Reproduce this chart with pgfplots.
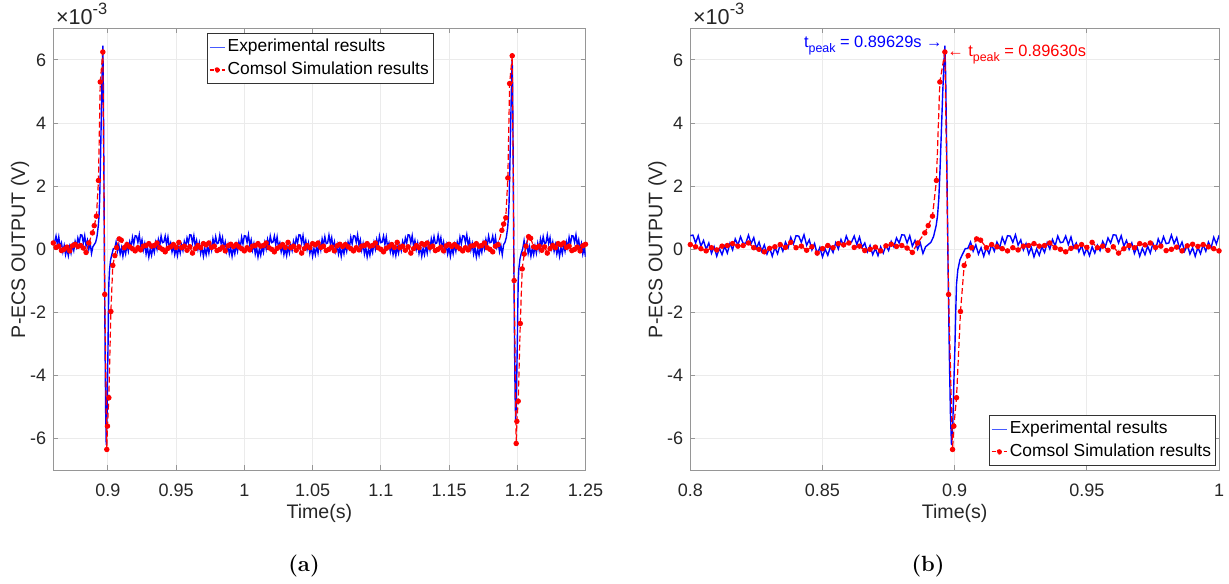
\documentclass[border=0pt]{standalone}
\usepackage{pgfplots}
\pgfplotsset{compat=1.18}
\usepackage{pgfplotstable}
\usepackage{fontspec}
\newfontfamily\hv{Liberation Sans}

\pgfplotstableread[row sep=\\]{
t v\\
0.800 0.43\\
0.801 0.45\\ 0.802 0.20\\ 0.803 0.43\\ 0.804 0.10\\ 0.805 0.28\\ 0.806 0.00\\ 0.807 0.20\\ 0.808 -0.13\\ 0.809 0.08\\ 0.810 -0.22\\
0.811 0.03\\ 0.812 -0.17\\ 0.813 0.10\\ 0.814 -0.12\\ 0.815 0.19\\ 0.816 -0.02\\ 0.817 0.33\\ 0.818 0.13\\ 0.819 0.40\\ 0.820 0.18\\
0.821 0.20\\ 0.822 0.45\\ 0.823 0.18\\ 0.824 0.37\\ 0.825 0.03\\ 0.826 0.23\\ 0.827 -0.06\\ 0.828 0.14\\ 0.829 -0.15\\ 0.830 0.05\\
0.831 -0.22\\ 0.832 0.06\\ 0.833 -0.14\\ 0.834 0.15\\ 0.835 -0.06\\ 0.836 0.23\\ 0.837 0.05\\ 0.838 0.38\\ 0.839 0.17\\ 0.840 0.43\\
0.841 0.42\\ 0.842 0.22\\ 0.843 0.46\\ 0.844 0.13\\ 0.845 0.30\\ 0.846 -0.02\\ 0.847 0.18\\ 0.848 -0.15\\ 0.849 0.06\\ 0.850 -0.24\\
0.851 0.01\\ 0.852 -0.19\\ 0.853 0.08\\ 0.854 -0.10\\ 0.855 0.21\\ 0.856 0.01\\ 0.857 0.31\\ 0.858 0.11\\ 0.859 0.42\\ 0.860 0.21\\
0.861 0.23\\ 0.862 0.42\\ 0.863 0.15\\ 0.864 0.39\\ 0.865 0.06\\ 0.866 0.20\\ 0.867 -0.08\\ 0.868 0.12\\ 0.869 -0.17\\ 0.870 0.03\\
0.871 -0.20\\ 0.872 0.08\\ 0.873 -0.12\\ 0.874 0.13\\ 0.875 -0.04\\ 0.876 0.25\\ 0.877 0.08\\ 0.878 0.36\\ 0.879 0.20\\ 0.880 0.46\\
0.881 0.45\\ 0.882 0.20\\ 0.883 0.43\\ 0.884 0.10\\ 0.885 0.28\\ 0.886 0.00\\ 0.887 0.20\\ 0.888 -0.13\\ 0.889 0.08\\
0.8900 0.15\\ 0.8910 0.22\\ 0.8920 0.40\\ 0.8930 0.75\\ 0.8935 1.05\\ 0.8940 1.60\\ 0.8945 2.60\\ 0.8950 3.80\\ 0.8955 5.00\\ 0.8960 6.00\\
0.8963 6.45\\ 0.8966 5.50\\ 0.8970 3.00\\ 0.8975 -0.50\\ 0.8980 -3.40\\ 0.8984 -5.20\\ 0.8988 -6.20\\ 0.8993 -5.50\\ 0.8997 -4.20\\ 0.9001 -3.10\\
0.9004 -2.00\\ 0.9007 -1.10\\ 0.9012 -0.65\\ 0.9020 -0.33\\ 0.9030 -0.15\\ 0.9040 0.02\\
0.905 0.03\\ 0.906 0.23\\ 0.907 -0.06\\ 0.908 0.14\\ 0.909 -0.15\\ 0.910 0.05\\ 0.911 -0.22\\ 0.912 0.06\\ 0.913 -0.14\\ 0.914 0.15\\
0.915 -0.06\\ 0.916 0.23\\ 0.917 0.05\\ 0.918 0.38\\ 0.919 0.17\\ 0.920 0.43\\
0.921 0.42\\ 0.922 0.22\\ 0.923 0.46\\ 0.924 0.13\\ 0.925 0.30\\ 0.926 -0.02\\ 0.927 0.18\\ 0.928 -0.15\\ 0.929 0.06\\ 0.930 -0.24\\
0.931 0.01\\ 0.932 -0.19\\ 0.933 0.08\\ 0.934 -0.10\\ 0.935 0.21\\ 0.936 0.01\\ 0.937 0.31\\ 0.938 0.11\\ 0.939 0.42\\ 0.940 0.21\\
0.941 0.23\\ 0.942 0.42\\ 0.943 0.15\\ 0.944 0.39\\ 0.945 0.06\\ 0.946 0.20\\ 0.947 -0.08\\ 0.948 0.12\\ 0.949 -0.17\\ 0.950 0.03\\
0.951 -0.20\\ 0.952 0.08\\ 0.953 -0.12\\ 0.954 0.13\\ 0.955 -0.04\\ 0.956 0.25\\ 0.957 0.08\\ 0.958 0.36\\ 0.959 0.20\\ 0.960 0.46\\
0.961 0.45\\ 0.962 0.20\\ 0.963 0.43\\ 0.964 0.10\\ 0.965 0.28\\ 0.966 0.00\\ 0.967 0.20\\ 0.968 -0.13\\ 0.969 0.08\\ 0.970 -0.22\\
0.971 0.03\\ 0.972 -0.17\\ 0.973 0.10\\ 0.974 -0.12\\ 0.975 0.19\\ 0.976 -0.02\\ 0.977 0.33\\ 0.978 0.13\\ 0.979 0.40\\ 0.980 0.18\\
0.981 0.20\\ 0.982 0.45\\ 0.983 0.18\\ 0.984 0.37\\ 0.985 0.03\\ 0.986 0.23\\ 0.987 -0.06\\ 0.988 0.14\\ 0.989 -0.15\\ 0.990 0.05\\
0.991 -0.22\\ 0.992 0.06\\ 0.993 -0.14\\ 0.994 0.15\\ 0.995 -0.06\\ 0.996 0.23\\ 0.997 0.05\\ 0.998 0.38\\ 0.999 0.17\\ 1.000 0.43\\
1.001 0.42\\ 1.002 0.22\\ 1.003 0.46\\ 1.004 0.13\\ 1.005 0.30\\ 1.006 -0.02\\ 1.007 0.18\\ 1.008 -0.15\\ 1.009 0.06\\ 1.010 -0.24\\
1.011 0.01\\ 1.012 -0.19\\ 1.013 0.08\\ 1.014 -0.10\\ 1.015 0.21\\ 1.016 0.01\\ 1.017 0.31\\ 1.018 0.11\\ 1.019 0.42\\ 1.020 0.21\\
1.021 0.23\\ 1.022 0.42\\ 1.023 0.15\\ 1.024 0.39\\ 1.025 0.06\\ 1.026 0.20\\ 1.027 -0.08\\ 1.028 0.12\\ 1.029 -0.17\\ 1.030 0.03\\
1.031 -0.20\\ 1.032 0.08\\ 1.033 -0.12\\ 1.034 0.13\\ 1.035 -0.04\\ 1.036 0.25\\ 1.037 0.08\\ 1.038 0.36\\ 1.039 0.20\\ 1.040 0.46\\
1.041 0.45\\ 1.042 0.20\\ 1.043 0.43\\ 1.044 0.10\\ 1.045 0.28\\ 1.046 0.00\\ 1.047 0.20\\ 1.048 -0.13\\ 1.049 0.08\\ 1.050 -0.22\\
1.051 0.03\\ 1.052 -0.17\\ 1.053 0.10\\ 1.054 -0.12\\ 1.055 0.19\\ 1.056 -0.02\\ 1.057 0.33\\ 1.058 0.13\\ 1.059 0.40\\ 1.060 0.18\\
1.061 0.20\\ 1.062 0.45\\ 1.063 0.18\\ 1.064 0.37\\ 1.065 0.03\\ 1.066 0.23\\ 1.067 -0.06\\ 1.068 0.14\\ 1.069 -0.15\\ 1.070 0.05\\
1.071 -0.22\\ 1.072 0.06\\ 1.073 -0.14\\ 1.074 0.15\\ 1.075 -0.06\\ 1.076 0.23\\ 1.077 0.05\\ 1.078 0.38\\ 1.079 0.17\\ 1.080 0.43\\
1.081 0.42\\ 1.082 0.22\\ 1.083 0.46\\ 1.084 0.13\\ 1.085 0.30\\ 1.086 -0.02\\ 1.087 0.18\\ 1.088 -0.15\\ 1.089 0.06\\ 1.090 -0.24\\
1.091 0.01\\ 1.092 -0.19\\ 1.093 0.08\\ 1.094 -0.10\\ 1.095 0.21\\ 1.096 0.01\\ 1.097 0.31\\ 1.098 0.11\\ 1.099 0.42\\ 1.100 0.21\\
1.101 0.23\\ 1.102 0.42\\ 1.103 0.15\\ 1.104 0.39\\ 1.105 0.06\\ 1.106 0.20\\ 1.107 -0.08\\ 1.108 0.12\\ 1.109 -0.17\\ 1.110 0.03\\
1.111 -0.20\\ 1.112 0.08\\ 1.113 -0.12\\ 1.114 0.13\\ 1.115 -0.04\\ 1.116 0.25\\ 1.117 0.08\\ 1.118 0.36\\ 1.119 0.20\\ 1.120 0.46\\
1.121 0.45\\ 1.122 0.20\\ 1.123 0.43\\ 1.124 0.10\\ 1.125 0.28\\ 1.126 0.00\\ 1.127 0.20\\ 1.128 -0.13\\ 1.129 0.08\\ 1.130 -0.22\\
1.131 0.03\\ 1.132 -0.17\\ 1.133 0.10\\ 1.134 -0.12\\ 1.135 0.19\\ 1.136 -0.02\\ 1.137 0.33\\ 1.138 0.13\\ 1.139 0.40\\ 1.140 0.18\\
1.141 0.20\\ 1.142 0.45\\ 1.143 0.18\\ 1.144 0.37\\ 1.145 0.03\\ 1.146 0.23\\ 1.147 -0.06\\ 1.148 0.14\\ 1.149 -0.15\\ 1.150 0.05\\
1.151 -0.22\\ 1.152 0.06\\ 1.153 -0.14\\ 1.154 0.15\\ 1.155 -0.06\\ 1.156 0.23\\ 1.157 0.05\\ 1.158 0.38\\ 1.159 0.17\\ 1.160 0.43\\
1.161 0.42\\ 1.162 0.22\\ 1.163 0.46\\ 1.164 0.13\\ 1.165 0.30\\ 1.166 -0.02\\ 1.167 0.18\\ 1.168 -0.15\\ 1.169 0.06\\ 1.170 -0.24\\
1.171 0.01\\ 1.172 -0.19\\ 1.173 0.08\\ 1.174 -0.10\\ 1.175 0.21\\ 1.176 0.01\\ 1.177 0.31\\ 1.178 0.11\\ 1.179 0.42\\ 1.180 0.21\\
1.181 0.23\\ 1.182 0.42\\ 1.183 0.15\\ 1.184 0.39\\ 1.185 0.06\\ 1.186 0.20\\ 1.187 -0.08\\ 1.188 0.12\\ 1.189 -0.17\\
1.1900 0.15\\ 1.1910 0.22\\ 1.1920 0.38\\ 1.1930 0.70\\ 1.1935 1.00\\ 1.1940 1.50\\ 1.1945 2.45\\ 1.1950 3.55\\ 1.1955 4.65\\ 1.1960 5.60\\
1.1963 6.00\\ 1.1966 5.10\\ 1.1970 2.80\\ 1.1975 -0.45\\ 1.1980 -3.00\\ 1.1984 -4.60\\ 1.1988 -5.40\\ 1.1993 -4.90\\ 1.1997 -3.80\\ 1.2001 -2.80\\
1.2004 -1.80\\ 1.2007 -1.00\\ 1.2012 -0.60\\ 1.2020 -0.30\\ 1.2030 -0.12\\ 1.2040 0.02\\
1.205 0.28\\ 1.206 0.00\\ 1.207 0.20\\ 1.208 -0.13\\ 1.209 0.08\\ 1.210 -0.22\\ 1.211 0.03\\ 1.212 -0.17\\ 1.213 0.10\\ 1.214 -0.12\\
1.215 0.19\\ 1.216 -0.02\\ 1.217 0.33\\ 1.218 0.13\\ 1.219 0.40\\ 1.220 0.18\\
1.221 0.20\\ 1.222 0.45\\ 1.223 0.18\\ 1.224 0.37\\ 1.225 0.03\\ 1.226 0.23\\ 1.227 -0.06\\ 1.228 0.14\\ 1.229 -0.15\\ 1.230 0.05\\
1.231 -0.22\\ 1.232 0.06\\ 1.233 -0.14\\ 1.234 0.15\\ 1.235 -0.06\\ 1.236 0.23\\ 1.237 0.05\\ 1.238 0.38\\ 1.239 0.17\\ 1.240 0.43\\
1.241 0.42\\ 1.242 0.22\\ 1.243 0.46\\ 1.244 0.13\\ 1.245 0.30\\ 1.246 -0.02\\ 1.247 0.18\\ 1.248 -0.15\\ 1.249 0.06\\ 1.250 -0.24\\
}\expdata

\pgfplotstableread[row sep=\\]{
t v\\
0.800 0.15\\ 0.802 0.08\\ 0.804 0.02\\ 0.806 -0.05\\ 0.808 0.05\\ 0.810 -0.02\\ 0.812 0.10\\ 0.814 0.12\\ 0.816 0.18\\ 0.818 0.10\\
0.820 0.12\\ 0.822 0.20\\ 0.824 0.05\\ 0.826 0.00\\ 0.828 -0.08\\ 0.830 0.03\\ 0.832 0.08\\ 0.834 0.15\\ 0.836 0.06\\ 0.838 0.22\\
0.840 0.05\\ 0.842 0.10\\ 0.844 -0.03\\ 0.846 0.08\\ 0.848 -0.12\\ 0.850 0.02\\ 0.852 0.12\\ 0.854 0.05\\ 0.856 0.18\\ 0.858 0.14\\
0.860 0.20\\ 0.862 0.06\\ 0.864 0.10\\ 0.866 -0.04\\ 0.868 0.00\\ 0.870 0.07\\ 0.872 -0.05\\ 0.874 0.11\\ 0.876 0.16\\ 0.878 0.09\\
0.880 0.12\\ 0.882 0.04\\ 0.884 -0.10\\ 0.886 0.20\\
0.8887 0.52\\ 0.8900 0.75\\ 0.8916 1.05\\ 0.8931 2.18\\ 0.8944 5.30\\ 0.8963 6.25\\ 0.8977 -1.43\\ 0.8992 -6.34\\ 0.8997 -5.60\\ 0.9007 -4.70\\
0.9022 -1.97\\ 0.9036 -0.51\\ 0.9051 -0.20\\ 0.9064 0.05\\ 0.9083 0.33\\ 0.9098 0.29\\ 0.912 0.05\\
0.914 0.15\\ 0.916 0.08\\ 0.918 0.02\\ 0.920 -0.05\\ 0.922 0.05\\ 0.924 -0.02\\ 0.926 0.10\\ 0.928 0.12\\ 0.930 0.18\\ 0.932 0.10\\
0.934 0.12\\ 0.936 0.20\\ 0.938 0.05\\ 0.940 0.00\\ 0.942 -0.08\\ 0.944 0.03\\ 0.946 0.08\\ 0.948 0.15\\ 0.950 0.06\\ 0.952 0.22\\
0.954 0.05\\ 0.956 0.10\\ 0.958 -0.03\\ 0.960 0.08\\ 0.962 -0.12\\ 0.964 0.02\\ 0.966 0.12\\ 0.968 0.05\\ 0.970 0.18\\ 0.972 0.14\\
0.974 0.20\\ 0.976 0.06\\ 0.978 0.10\\ 0.980 -0.04\\ 0.982 0.00\\ 0.984 0.07\\ 0.986 -0.05\\ 0.988 0.11\\ 0.990 0.16\\ 0.992 0.09\\
0.994 0.15\\ 0.996 0.08\\ 0.998 0.02\\ 1.000 -0.05\\ 1.002 0.05\\ 1.004 -0.02\\ 1.006 0.10\\ 1.008 0.12\\ 1.010 0.18\\ 1.012 0.10\\
1.014 0.12\\ 1.016 0.20\\ 1.018 0.05\\ 1.020 0.00\\ 1.022 -0.08\\ 1.024 0.03\\ 1.026 0.08\\ 1.028 0.15\\ 1.030 0.06\\ 1.032 0.22\\
1.034 0.05\\ 1.036 0.10\\ 1.038 -0.03\\ 1.040 0.08\\ 1.042 -0.12\\ 1.044 0.02\\ 1.046 0.12\\ 1.048 0.05\\ 1.050 0.18\\ 1.052 0.14\\
1.054 0.20\\ 1.056 0.06\\ 1.058 0.10\\ 1.060 -0.04\\ 1.062 0.00\\ 1.064 0.07\\ 1.066 -0.05\\ 1.068 0.11\\ 1.070 0.16\\ 1.072 0.09\\
1.074 0.15\\ 1.076 0.08\\ 1.078 0.02\\ 1.080 -0.05\\ 1.082 0.05\\ 1.084 -0.02\\ 1.086 0.10\\ 1.088 0.12\\ 1.090 0.18\\ 1.092 0.10\\
1.094 0.12\\ 1.096 0.20\\ 1.098 0.05\\ 1.100 0.00\\ 1.102 -0.08\\ 1.104 0.03\\ 1.106 0.08\\ 1.108 0.15\\ 1.110 0.06\\ 1.112 0.22\\
1.114 0.05\\ 1.116 0.10\\ 1.118 -0.03\\ 1.120 0.08\\ 1.122 -0.12\\ 1.124 0.02\\ 1.126 0.12\\ 1.128 0.05\\ 1.130 0.18\\ 1.132 0.14\\
1.134 0.20\\ 1.136 0.06\\ 1.138 0.10\\ 1.140 -0.04\\ 1.142 0.00\\ 1.144 0.07\\ 1.146 -0.05\\ 1.148 0.11\\ 1.150 0.16\\ 1.152 0.09\\
1.154 0.15\\ 1.156 0.08\\ 1.158 0.02\\ 1.160 -0.05\\ 1.162 0.05\\ 1.164 -0.02\\ 1.166 0.10\\ 1.168 0.12\\ 1.170 0.18\\ 1.172 0.10\\
1.174 0.12\\ 1.176 0.20\\ 1.178 0.05\\ 1.180 0.00\\ 1.182 -0.08\\ 1.184 0.10\\ 1.186 0.15\\
1.1887 0.60\\ 1.1900 0.80\\ 1.1916 1.00\\ 1.1931 2.26\\ 1.1944 5.25\\ 1.1963 6.13\\ 1.1977 -0.99\\ 1.1992 -6.15\\ 1.1997 -5.45\\ 1.2007 -4.81\\
1.2022 -2.35\\ 1.2036 -0.62\\ 1.2051 -0.15\\ 1.2064 0.10\\ 1.2083 0.40\\ 1.2098 0.35\\ 1.212 0.08\\
1.214 0.05\\ 1.216 0.10\\ 1.218 -0.03\\ 1.220 0.08\\ 1.222 -0.12\\ 1.224 0.02\\ 1.226 0.12\\ 1.228 0.05\\ 1.230 0.18\\ 1.232 0.14\\
1.234 0.20\\ 1.236 0.06\\ 1.238 0.10\\ 1.240 -0.04\\ 1.242 0.00\\ 1.244 0.07\\ 1.246 -0.05\\ 1.248 0.11\\ 1.250 0.16\\
}\simdata

\definecolor{axgray}{RGB}{150,150,150}
\definecolor{txtgray}{RGB}{38,38,38}
\definecolor{grd}{RGB}{235,235,235}
\definecolor{legblue}{RGB}{70,90,255}

\pgfplotsset{
  matlab/.style={
    scale only axis, height=221pt,
    ymin=-7, ymax=7, ytick={-6,-4,-2,0,2,4,6},
    font=\hv\fontsize{9}{10.5}\selectfont,
    /pgf/number format/assume math mode=true,
    /pgf/number format/fixed,
    grid=major, major grid style={draw=grd, line width=0.5pt},
    axis line style={draw=axgray, line width=0.5pt},
    every tick/.style={draw=axgray, line width=0.5pt},
    tick align=inside, major tick length=2.5pt,
    ticklabel style={text=txtgray},
    xticklabel shift=3.2pt,
    every axis x label/.style={at={(axis description cs:0.5,-0.0966)}, anchor=center, font=\hv\fontsize{9.8}{11}\selectfont, text=txtgray},
    every axis y label/.style={at={(axis description cs:-0.0626,0.5)}, rotate=90, anchor=center, font=\hv\fontsize{9.8}{11}\selectfont, text=txtgray},
    xlabel={Time(s)}, ylabel={P-ECS OUTPUT (V)},
    legend cell align=left,
  },
  explegend/.style={legend image code/.code={\draw[draw=legblue, line width=0.55pt] (0pt,0pt) -- (7.5pt,0pt);}},
  simlegend/.style={legend image code/.code={\draw[draw=red, line width=0.55pt, dash pattern=on 2pt off 1pt] (0pt,0pt) -- (7.5pt,0pt); \fill[red] (3.75pt,0pt) circle (1.05pt);}},
}

\begin{document}
\begin{tikzpicture}
\useasboundingbox (0,0) rectangle (614.5pt,291.5pt);

\begin{axis}[matlab, name=A, at={(26.65pt,56.35pt)}, anchor=south west, width=266.1pt,
  xmin=0.86, xmax=1.25, xtick={0.9,0.95,1,1.05,1.1,1.15,1.2,1.25},
  legend style={at={(axis description cs:0.288,0.9887)}, anchor=north west,
    draw=black!80, line width=0.4pt, fill=white,
    font=\hv\fontsize{8.7}{10}\selectfont, inner xsep=1pt, inner ysep=1.2pt,
    nodes={inner sep=1.3pt, text height=6.6pt, text depth=2.1pt, anchor=west}}]
\addplot[blue, line width=0.7pt, explegend] table[x=t,y=v] {\expdata};
\addlegendentry{Experimental results}
\addplot[red, line width=0.6pt, dash pattern=on 3pt off 1.5pt, mark=*, mark size=1.05pt, mark options={solid, fill=red, draw=red}, simlegend] table[x=t,y=v] {\simdata};
\addlegendentry{Comsol Simulation results}
\end{axis}

\begin{axis}[matlab, name=B, at={(345.15pt,56.35pt)}, anchor=south west, width=264.35pt,
  xmin=0.8, xmax=1.0, xtick={0.8,0.85,0.9,0.95,1},
  legend style={at={(axis description cs:0.9943,0.0097)}, anchor=south east,
    draw=black!80, line width=0.4pt, fill=white,
    font=\hv\fontsize{8.7}{10}\selectfont, inner xsep=1pt, inner ysep=1.2pt,
    nodes={inner sep=1.3pt, text height=6.6pt, text depth=2.1pt, anchor=west}}]
\addplot[blue, line width=0.7pt, explegend] table[x=t,y=v] {\expdata};
\addlegendentry{Experimental results}
\addplot[red, line width=0.6pt, dash pattern=on 3pt off 1.5pt, mark=*, mark size=1.05pt, mark options={solid, fill=red, draw=red}, simlegend] table[x=t,y=v] {\simdata};
\addlegendentry{Comsol Simulation results}
\node[anchor=base east, inner sep=0pt, text=blue, font=\hv\fontsize{8.2}{9}\selectfont] at (axis cs:0.8956,6.38) {t\raisebox{-0.55ex}{\fontsize{6.2}{7}\selectfont peak} = 0.89629s →};
\node[anchor=base west, inner sep=0pt, text=red, font=\hv\fontsize{8.2}{9}\selectfont] at (axis cs:0.8971,6.11) {← t\raisebox{-0.55ex}{\fontsize{6.2}{7}\selectfont peak} = 0.89630s};
\end{axis}

\node[anchor=base west, inner sep=0pt, text=txtgray, font=\hv\fontsize{10.8}{11}\selectfont] at ([xshift=1.2pt,yshift=2.1pt]A.north west) {×10\raisebox{0.8ex}{\fontsize{8.2}{9}\selectfont -3}};
\node[anchor=base west, inner sep=0pt, text=txtgray, font=\hv\fontsize{10.8}{11}\selectfont] at ([xshift=1.2pt,yshift=2.1pt]B.north west) {×10\raisebox{0.8ex}{\fontsize{8.2}{9}\selectfont -3}};
\node[font=\fontsize{11}{13}\selectfont\bfseries] at (152pt,8.5pt) {(a)};
\node[font=\fontsize{11}{13}\selectfont\bfseries] at (464pt,8.5pt) {(b)};
\end{tikzpicture}
\end{document}
